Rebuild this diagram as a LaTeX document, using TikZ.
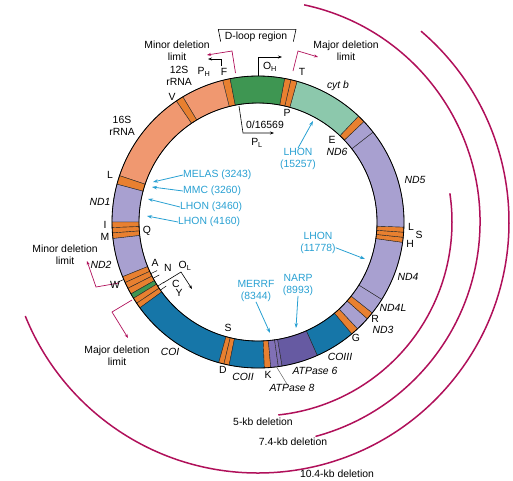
\documentclass[tikz,border=0pt]{standalone}
\usepackage{fontspec}
\setmainfont{Liberation Sans}
\usetikzlibrary{arrows.meta}
\definecolor{rrna}{RGB}{240,152,112}
\definecolor{trna}{RGB}{232,128,48}
\definecolor{dloop}{RGB}{62,150,82}
\definecolor{cytb}{RGB}{140,200,172}
\definecolor{ndcol}{RGB}{168,160,208}
\definecolor{cocol}{RGB}{22,118,168}
\definecolor{atpsix}{RGB}{102,90,162}
\definecolor{atpeight}{RGB}{128,112,182}
\definecolor{delcol}{RGB}{176,16,90}
\definecolor{discol}{RGB}{40,160,210}
\begin{document}
\begin{tikzpicture}[x=1pt,y=-1pt,
    every node/.style={font=\fontsize{10.4}{12}\selectfont,inner sep=0pt,align=center},
    gene/.style={font=\fontsize{10.4}{12}\selectfont\itshape},
    disease/.style={text=discol},
    diseasearrow/.style={draw=discol,line width=0.8pt,-{Stealth[length=5pt,width=3.5pt]}},
    limitarrow/.style={draw=delcol,line width=0.7pt,-{Stealth[length=4pt,width=3pt]}},
    pointer/.style={line width=0.6pt,-{Stealth[length=4pt,width=3pt]}},
    deletion/.style={draw=delcol,line width=1.5pt}]
\useasboundingbox (0,0) rectangle (513,480);
\begin{scope}[shift={(258,222)},yscale=-1]
  \foreach \sa/\sb/\sc in {101/104/trna,104/121/rrna,121/124/trna,124/161.5/rrna,161.5/165/trna,165/180/ndcol,
      180/182.2/trna,182.2/184.3/trna,184.3/186.5/trna,186.5/202/ndcol,202/204.5/trna,204.5/207/trna,
      207/209.5/trna,209.5/211.5/dloop,211.5/213.8/trna,213.8/216/trna,216/254.4/cocol,254.4/256.5/trna,
      256.5/258.6/trna,258.6/272.5/cocol,272.5/275/trna,275/278/atpeight,278/279.5/atpeight,279.5/294/atpsix,
      294/310/cocol,310/313/trna,313/318.5/ndcol,318.5/321.5/trna,321.5/328/ndcol,328/352/ndcol,
      352/354/trna,354/356/trna,356/358/trna,358/398/ndcol,398/403.5/ndcol,403.5/406.5/trna,
      406.5/434.5/cytb,434.5/437/trna,437/439.5/trna,439.5/461/dloop}
    \filldraw[fill=\sc,draw=black!85,line width=0.4pt] (\sa:119) arc[start angle=\sa,end angle=\sb,radius=119]
      -- (\sb:146) arc[start angle=\sb,end angle=\sa,radius=146] -- cycle;
  \draw[line width=0.8pt] (0,0) circle[radius=146] (0,0) circle[radius=119];
  \foreach \t in {205.7,208.2,212.6,214.9} \draw[line width=0.5pt] (\t:119) -- (\t:112);
  \draw[line width=0.5pt] (203.2:146) -- (203.2:153);
  \draw[deletion] (8.5:194) arc[start angle=8.5,end angle=-84,radius=194];
  \draw[deletion] (78:222) arc[start angle=78,end angle=-75,radius=222];
  \draw[deletion] (49.5:251) arc[start angle=49.5,end angle=-158,radius=251];
\end{scope}

\draw[line width=0.6pt] (220.7,41.7) -- (218.3,29.3) -- (296,29.3) -- (293.3,41.7);
\node (dloopreg) at (256,37) {D-loop region};

\node (minortop) at (177,51) {Minor deletion\\limit};
\node (majortop) at (346,51) {Major deletion\\limit};
\node (minorleft) at (65,255) {Minor deletion\\limit};
\node (majorleft) at (117,356) {Major deletion\\limit};
\coordinate (mnA) at (235.5,73); \coordinate (mnB) at (232,51); \coordinate (mnC) at (207,55);
\coordinate (mjA) at (293,71); \coordinate (mjB) at (298,51); \coordinate (mjC) at (318,57);
\coordinate (mlA) at (119,283); \coordinate (mlB) at (96,287); \coordinate (mlC) at (87,261);
\coordinate (jlA) at (132,300); \coordinate (jlB) at (112,312); \coordinate (jlC) at (128,338);
\draw[limitarrow] (mnA) -- (mnB) -- (mnC);
\draw[limitarrow] (mjA) -- (mjB) -- (mjC);
\draw[limitarrow] (mlA) -- (mlB) -- (mlC);
\draw[limitarrow] (jlA) -- (jlB) -- (jlC);

\node (twelves) at (179,76) {12S\\rRNA};
\node (sixteens) at (122,126) {16S\\rRNA};
\node (ph) at (204,72) {P\textsubscript{H}};
\node (fgene) at (224,72) {F};
\node (oh) at (270,67) {O\textsubscript{H}};
\node (tgene) at (302,72) {T};
\node (pgene) at (287,113) {P};
\node (origin) at (265,125) {0/16569};
\node (pl) at (257,143) {P\textsubscript{L}};
\coordinate (phA) at (221,66); \coordinate (phB) at (221,59); \coordinate (phC) at (208,59);
\coordinate (ohA) at (258.3,76); \coordinate (ohB) at (258.3,57); \coordinate (ohC) at (282,57);
\coordinate (plA) at (239,106); \coordinate (plB) at (243,133); \coordinate (plC) at (274,133);
\draw[pointer] (phA) -- (phB) -- (phC);
\draw[pointer] (ohA) -- (ohB) -- (ohC);
\draw[pointer] (plA) -- (plB) -- (plC);

\node[gene] (cytbl) at (338,86) {cyt b};
\node (egene) at (332,140) {E};
\node[gene] (ndsix) at (337,152) {ND6};
\node[gene] (ndfive) at (415,180) {ND5};
\node (lgeneR) at (411,227) {L};
\node (sgeneR) at (419,235) {S};
\node (hgene) at (410,244) {H};
\node[gene] (ndfour) at (408,277) {ND4};
\node[gene] (ndfourl) at (393,308) {ND4L};
\node (rgene) at (375,319) {R};
\node[gene] (ndthree) at (383,330) {ND3};
\node (ggene) at (356,338) {G};
\node[gene] (cothree) at (340,357) {COIII};
\node[gene] (atpsixl) at (315,371) {ATPase 6};
\node[gene] (atpeightl) at (292,388) {ATPase 8};
\coordinate (atpeightring) at (276,366);
\draw[black!60,line width=0.5pt] (atpeightring) -- (atpeightl.north -| 287,0);
\node (kgene) at (268,375) {K};
\node[gene] (cotwo) at (243,377) {COII};
\node (dgene) at (223,370) {D};
\node (sgeneB) at (228,328) {S};
\node[gene] (coone) at (170,352) {COI};
\node (wgene) at (115,285) {W};
\node (agene) at (155,263) {A};
\node (ngene) at (168,268) {N};
\node (olabel) at (185,266) {O\textsubscript{L}};
\node (cgene) at (176,284) {C};
\node (ygene) at (179,293) {Y};
\coordinate (olA) at (163,283); \coordinate (olB) at (181,272); \coordinate (olC) at (192,289);
\draw[pointer] (olA) -- (olB) -- (olC);
\node[gene] (ndtwo) at (101,265) {ND2};
\node (igene) at (105,225) {I};
\node (mgene) at (105,237) {M};
\node (qgene) at (147,231) {Q};
\node[gene] (ndone) at (100,202) {ND1};
\node (lgeneL) at (110,175) {L};
\node (vgene) at (172,97) {V};

\node[disease,anchor=west] (melas) at (183,175) {MELAS (3243)};
\node[disease,anchor=west] (mmc) at (183,191) {MMC (3260)};
\node[disease,anchor=west] (lhona) at (180,207) {LHON (3460)};
\node[disease,anchor=west] (lhonb) at (178,222) {LHON (4160)};
\node[disease] (lhonc) at (298,159) {LHON\\(15257)};
\node[disease] (lhond) at (318,243) {LHON\\(11778)};
\node[disease] (narp) at (298,285) {NARP\\(8993)};
\node[disease] (merrf) at (256,291) {MERRF\\(8344)};
\coordinate (melastip) at (153,182);
\coordinate (mmctip) at (152,187);
\coordinate (lhonatip) at (148,199);
\coordinate (lhonbtip) at (147,216);
\coordinate (lhonctip) at (313,121);
\coordinate (lhondtip) at (365,259);
\coordinate (narptip) at (296,328);
\coordinate (merrftip) at (270,333);
\draw[diseasearrow] (melas.west) -- (melastip);
\draw[diseasearrow] (mmc.west) -- (mmctip);
\draw[diseasearrow] (lhona.west) -- (lhonatip);
\draw[diseasearrow] (lhonb.west) -- (lhonbtip);
\draw[diseasearrow] (lhonc.north) -- (lhonctip);
\draw[diseasearrow] (lhond.-15) -- (lhondtip);
\draw[diseasearrow] (narp.south) -- (narptip);
\draw[diseasearrow] (merrf.south) -- (merrftip);

\node (fivekb) at (263,422) {5-kb deletion};
\node (sevenkb) at (293,442) {7.4-kb deletion};
\node (tenkb) at (337,474) {10.4-kb deletion};
\end{tikzpicture}
\end{document}
